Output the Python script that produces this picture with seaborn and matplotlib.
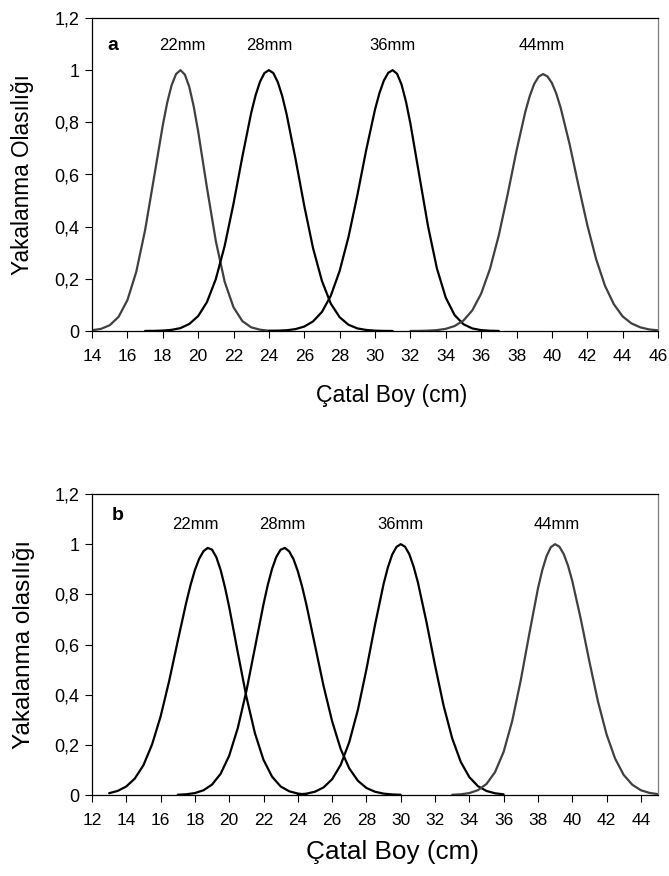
import matplotlib
matplotlib.use("Agg")
import matplotlib.pyplot as plt
import seaborn as sns
import pandas as pd

# ---------------- data: panel a ----------------
x_a22 = [14, 14.5, 15, 15.5, 16, 16.5, 17, 17.5, 18, 18.25, 18.5, 18.75, 19, 19.25, 19.5, 19.75, 20, 20.5, 21, 21.5, 22, 22.5, 23, 23.5, 24, 24.5, 25]
y_a22 = [0.003, 0.008, 0.022, 0.054, 0.118, 0.226, 0.386, 0.586, 0.788, 0.875, 0.942, 0.985, 1.0, 0.983, 0.936, 0.861, 0.766, 0.549, 0.345, 0.189, 0.091, 0.038, 0.014, 0.005, 0.001, 0.0003, 0.0001]

x_a28 = [17, 17.5, 18, 18.5, 19, 19.5, 20, 20.5, 21, 21.5, 22, 22.5, 23, 23.25, 23.5, 23.75, 24, 24.25, 24.5, 24.75, 25, 25.5, 26, 26.5, 27, 27.5, 28, 28.5, 29, 29.5, 30, 30.5, 31]
y_a28 = [0.0002, 0.0005, 0.0016, 0.0044, 0.011, 0.027, 0.057, 0.111, 0.199, 0.326, 0.488, 0.668, 0.836, 0.904, 0.956, 0.989, 1.0, 0.989, 0.955, 0.902, 0.832, 0.662, 0.480, 0.317, 0.192, 0.105, 0.053, 0.024, 0.010, 0.004, 0.0013, 0.0004, 0.0001]

x_a36 = [24, 24.5, 25, 25.5, 26, 26.5, 27, 27.5, 28, 28.5, 29, 29.5, 30, 30.25, 30.5, 30.75, 31, 31.25, 31.5, 31.75, 32, 32.5, 33, 33.5, 34, 34.5, 35, 35.5, 36, 36.5, 37]
y_a36 = [0.0003, 0.0010, 0.0028, 0.0072, 0.017, 0.037, 0.073, 0.135, 0.230, 0.360, 0.520, 0.693, 0.849, 0.912, 0.960, 0.990, 1.0, 0.986, 0.945, 0.880, 0.796, 0.598, 0.401, 0.240, 0.128, 0.061, 0.026, 0.0098, 0.0033, 0.0010, 0.0003]

x_a44 = [32, 32.5, 33, 33.5, 34, 34.5, 35, 35.5, 36, 36.5, 37, 37.5, 38, 38.5, 38.75, 39, 39.25, 39.5, 39.75, 40, 40.25, 40.5, 41, 41.5, 42, 42.5, 43, 43.5, 44, 44.5, 45, 45.5, 46]
y_a44 = [0.0001, 0.0004, 0.0013, 0.0034, 0.0083, 0.019, 0.040, 0.079, 0.143, 0.238, 0.367, 0.524, 0.691, 0.841, 0.901, 0.947, 0.975, 0.985, 0.976, 0.951, 0.910, 0.855, 0.717, 0.559, 0.407, 0.276, 0.174, 0.103, 0.056, 0.029, 0.014, 0.006, 0.0025]

# ---------------- data: panel b ----------------
x_b22 = [13, 13.5, 14, 14.5, 15, 15.5, 16, 16.5, 17, 17.5, 17.75, 18, 18.25, 18.5, 18.75, 19, 19.25, 19.5, 19.75, 20, 20.5, 21, 21.5, 22, 22.5, 23, 23.5, 24, 24.5]
y_b22 = [0.0072, 0.0163, 0.034, 0.066, 0.119, 0.201, 0.313, 0.455, 0.614, 0.769, 0.838, 0.897, 0.942, 0.972, 0.985, 0.978, 0.948, 0.897, 0.829, 0.749, 0.568, 0.392, 0.246, 0.140, 0.073, 0.034, 0.0147, 0.0057, 0.002]

x_b28 = [17, 17.5, 18, 18.5, 19, 19.5, 20, 20.5, 21, 21.5, 22, 22.25, 22.5, 22.75, 23, 23.25, 23.5, 23.75, 24, 24.25, 24.5, 25, 25.5, 26, 26.5, 27, 27.5, 28, 28.5, 29, 29.5, 30]
y_b28 = [0.0010, 0.0029, 0.0077, 0.0188, 0.0417, 0.0846, 0.157, 0.267, 0.414, 0.587, 0.761, 0.838, 0.902, 0.950, 0.978, 0.985, 0.971, 0.940, 0.892, 0.831, 0.759, 0.597, 0.435, 0.294, 0.183, 0.106, 0.057, 0.028, 0.013, 0.0055, 0.0022, 0.0008]

x_b36 = [24, 24.5, 25, 25.5, 26, 26.5, 27, 27.5, 28, 28.5, 29, 29.25, 29.5, 29.75, 30, 30.25, 30.5, 30.75, 31, 31.5, 32, 32.5, 33, 33.5, 34, 34.5, 35, 35.5, 36]
y_b36 = [0.0020, 0.0053, 0.0132, 0.0301, 0.0628, 0.120, 0.211, 0.339, 0.501, 0.678, 0.841, 0.907, 0.958, 0.989, 1.0, 0.990, 0.960, 0.911, 0.848, 0.690, 0.517, 0.356, 0.226, 0.132, 0.0712, 0.0353, 0.0161, 0.0068, 0.0026]

x_b44 = [33, 33.5, 34, 34.5, 35, 35.5, 36, 36.5, 37, 37.5, 38, 38.25, 38.5, 38.75, 39, 39.25, 39.5, 39.75, 40, 40.5, 41, 41.5, 42, 42.5, 43, 43.5, 44, 44.5, 45]
y_b44 = [0.0009, 0.0027, 0.0076, 0.0192, 0.0439, 0.0914, 0.172, 0.295, 0.458, 0.644, 0.823, 0.896, 0.952, 0.988, 1.0, 0.990, 0.961, 0.915, 0.854, 0.701, 0.532, 0.373, 0.242, 0.145, 0.080, 0.041, 0.019, 0.0084, 0.0034]

mesh_labels = ["22mm", "28mm", "36mm", "44mm"]
label_x_a = [19.1, 24.0, 31.0, 39.4]
label_x_b = [18.0, 23.1, 30.0, 39.1]

xticks_a = list(range(14, 47, 2))
xticks_b = list(range(12, 45, 2))
yticks = [0, 0.2, 0.4, 0.6, 0.8, 1.0, 1.2]
ytick_labels = ["0", "0,2", "0,4", "0,6", "0,8", "1", "1,2"]

GREY = "#404040"
BLACK = "#000000"
colors_a = {"22mm": GREY, "28mm": BLACK, "36mm": BLACK, "44mm": GREY}
colors_b = {"22mm": BLACK, "28mm": BLACK, "36mm": BLACK, "44mm": GREY}


def long_frame(xs, ys):
    parts = []
    for lab, xv, yv in zip(mesh_labels, xs, ys):
        parts.append(pd.DataFrame({"x": xv, "y": yv, "mesh": lab}))
    return pd.concat(parts, ignore_index=True)


df_a = long_frame([x_a22, x_a28, x_a36, x_a44], [y_a22, y_a28, y_a36, y_a44])
df_b = long_frame([x_b22, x_b28, x_b36, x_b44], [y_b22, y_b28, y_b36, y_b44])

sns.set_theme(style="white")
plt.rcParams["font.family"] = ["Liberation Sans", "DejaVu Sans"]
plt.rcParams.update({"text.color": "black", "axes.labelcolor": "black",
                     "xtick.color": "black", "ytick.color": "black"})

fig = plt.figure(figsize=(6.69, 8.76), dpi=100)
ax_a = fig.add_axes([92 / 669, 1 - 331 / 876, 566 / 669, 313 / 876])
ax_b = fig.add_axes([92 / 669, 1 - 795 / 876, 566 / 669, 301 / 876])


def style_axes(ax, xlim, xticks, ylabel, ylabel_size, xlabel_size, xlabel_y, ylabel_x):
    ax.set_xlim(*xlim)
    ax.set_ylim(0, 1.2)
    ax.set_xticks(xticks)
    ax.set_xticklabels([str(t) for t in xticks], fontsize=12.5, color="black")
    ax.set_yticks(yticks)
    ax.set_yticklabels(ytick_labels, fontsize=13, color="black")
    ax.tick_params(axis="both", direction="out", length=5, width=0.8, color="black",
                   bottom=True, left=True, pad=4)
    ax.tick_params(axis="x", pad=8)
    for side in ["left", "bottom", "top"]:
        ax.spines[side].set_color("black")
        ax.spines[side].set_linewidth(0.9)
    ax.spines["right"].set_color("#808080")
    ax.spines["right"].set_linewidth(0.9)
    ax.set_xlabel("Çatal Boy (cm)", fontsize=xlabel_size, color="black")
    ax.set_ylabel(ylabel, fontsize=ylabel_size, color="black")
    ax.xaxis.set_label_coords((392 - 92) / 566, xlabel_y)
    ax.yaxis.set_label_coords(ylabel_x, 0.5)


sns.lineplot(data=df_a, x="x", y="y", hue="mesh", palette=colors_a, ax=ax_a,
             linewidth=1.6, legend=False, sort=False, estimator=None)
style_axes(ax_a, (14, 46), xticks_a, "Yakalanma Olasılığı", 16.3, 16.5,
           -(384 - 331) / 313, -(92 - 34) / 566)
for lab, lx in zip(mesh_labels, label_x_a):
    ax_a.text(lx, 1.095, lab, ha="center", va="center", fontsize=12, color="black")
ax_a.text(15.2, 1.095, "a", ha="center", va="center", fontsize=14, fontweight="bold", color="black")

sns.lineplot(data=df_b, x="x", y="y", hue="mesh", palette=colors_b, ax=ax_b,
             linewidth=1.6, legend=False, sort=False, estimator=None)
style_axes(ax_b, (12, 45), xticks_b, "Yakalanma olasılığı", 17.5, 18.8,
           -(840 - 795) / 301, -(92 - 35) / 566)
for lab, lx in zip(mesh_labels, label_x_b):
    ax_b.text(lx, 1.08, lab, ha="center", va="center", fontsize=12, color="black")
ax_b.text(13.5, 1.115, "b", ha="center", va="center", fontsize=14, fontweight="bold", color="black")

fig.savefig("out.png", dpi=100)
